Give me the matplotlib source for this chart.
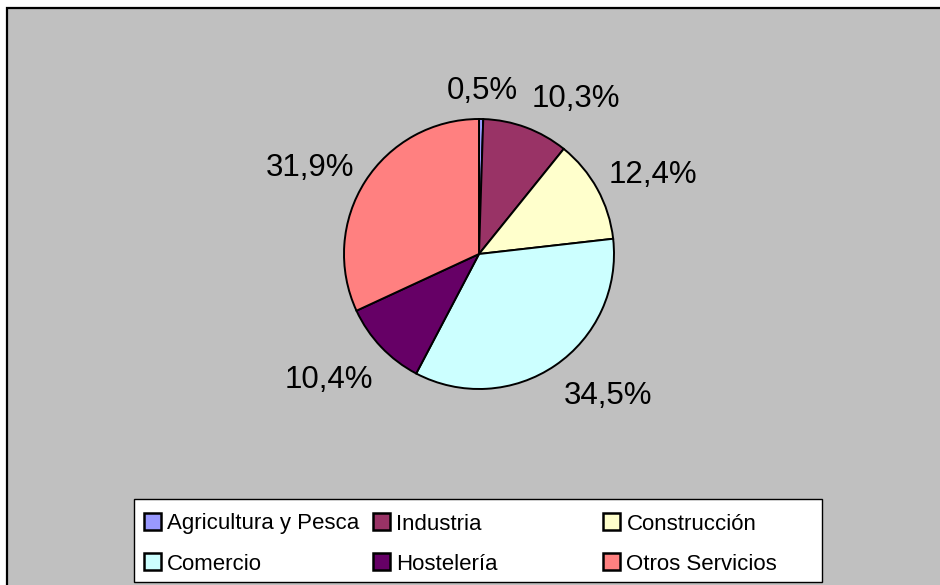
import matplotlib
matplotlib.use("Agg")
import matplotlib.pyplot as plt
from matplotlib.patches import Rectangle

# Sector shares (%)
sectors = ["Agricultura y Pesca", "Industria", "Construcción",
           "Comercio", "Hostelería", "Otros Servicios"]
shares = [0.5, 10.3, 12.4, 34.5, 10.4, 31.9]
colors = ["#9999FF", "#993366", "#FFFFCC", "#CCFFFF", "#660066", "#FF8080"]

# Label anchor points (in pie radius units, baseline of the text)
label_pos = [(0.022, 1.146), (0.717, 1.091), (1.289, 0.526),
             (0.956, -1.111), (-1.111, -0.993), (-1.248, 0.578)]

plt.rcParams["font.family"] = ["Liberation Sans", "DejaVu Sans"]

W, H = 940, 585
fig = plt.figure(figsize=(W / 100, H / 100), dpi=100, facecolor="white")

def fx(px):
    return px / W

def fy(py):
    return 1 - py / H

# Chart area: grey panel with a dark border
fig.patches.append(Rectangle((fx(7), -0.1), 2, fy(8) + 0.1,
                             transform=fig.transFigure, facecolor="#C0C0C0",
                             edgecolor="#000000", linewidth=1.6, zorder=-10))

# Pie
cx, cy, r = 479, 254, 135
ax = fig.add_axes([fx(cx - r), fy(cy + r), (2 * r) / W, (2 * r) / H])
ax.set_zorder(5)
ax.set_facecolor("none")
wedges, _ = ax.pie(shares, colors=colors, startangle=90, counterclock=False,
                   radius=1.0,
                   wedgeprops=dict(edgecolor="black", linewidth=1.4))
ax.set_xlim(-1, 1)
ax.set_ylim(-1, 1)
ax.set_aspect("auto")
ax.axis("off")

for v, (u, w) in zip(shares, label_pos):
    txt = f"{v:.1f}".replace(".", ",") + "%"
    ax.text(u, w, txt, ha="center", va="baseline", fontsize=22.5,
            color="black", clip_on=False)

# Legend box
lx0, ly0, lx1, ly1 = 134, 499, 822, 582
fig.patches.append(Rectangle((fx(lx0), fy(ly1)), (lx1 - lx0) / W,
                             (ly1 - ly0) / H, transform=fig.transFigure,
                             facecolor="white", edgecolor="black",
                             linewidth=1.0, zorder=2))
col_x = [152, 381.5, 611.5]
row_y = [521, 561]
row_base = [529.5, 570]
msize = 17
for i, (name, c) in enumerate(zip(sectors, colors)):
    row, col = divmod(i, 3)
    mx, my = col_x[col], row_y[row]
    fig.patches.append(Rectangle((fx(mx - msize / 2), fy(my + msize / 2)),
                                 msize / W, msize / H,
                                 transform=fig.transFigure, facecolor=c,
                                 edgecolor="black", linewidth=1.8, zorder=3))
    fig.text(fx(mx + 15), fy(row_base[row]), name, ha="left", va="baseline",
             fontsize=16, color="black", zorder=4)

fig.savefig("out.png", dpi=100, facecolor="white")
